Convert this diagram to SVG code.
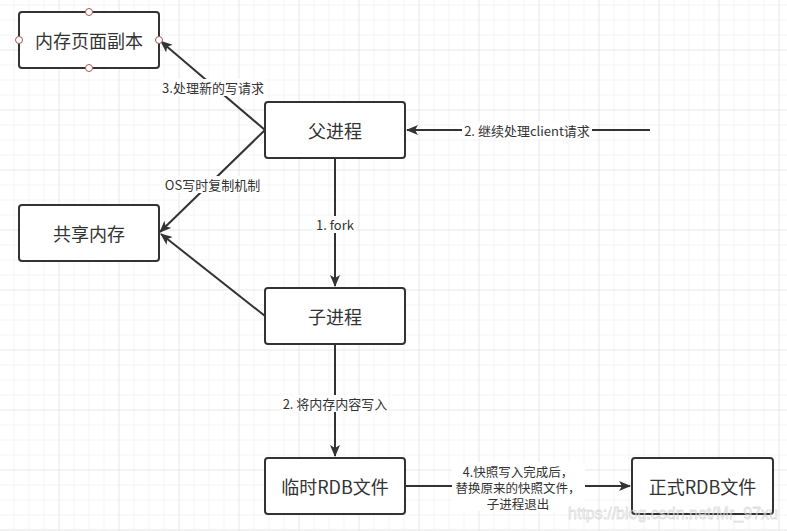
<svg xmlns="http://www.w3.org/2000/svg" width="787" height="531" viewBox="0 0 787 531">
<style>
.box{fill:#fff;stroke:#333;stroke-width:2}
.nt{font-family:"Noto Sans CJK SC","Liberation Sans",sans-serif;font-size:18px;fill:#333;text-anchor:middle;dominant-baseline:central}
.lt{font-family:"Noto Sans CJK SC","Liberation Sans",sans-serif;font-size:13px;fill:#333;text-anchor:middle;dominant-baseline:central}
.lt2{font-family:"Noto Sans CJK SC","Liberation Sans",sans-serif;font-size:12.5px;fill:#333;text-anchor:middle;dominant-baseline:central}
.edge{fill:none;stroke:#333;stroke-width:2}
.lbg{fill:#fff}
.cp{fill:#fff;stroke:#a05a5a;stroke-width:1}
</style>
<defs>
<pattern id="g" x="13.5" y="4.5" width="15" height="15" patternUnits="userSpaceOnUse">
<path d="M0 0H15M0 0V15" fill="none" stroke="#ececec" stroke-width="1"/>
</pattern>
<pattern id="G" x="58.5" y="49.5" width="60" height="60" patternUnits="userSpaceOnUse">
<path d="M0 0H60M0 0V60" fill="none" stroke="#dedede" stroke-width="1"/>
</pattern>
<marker id="arr" viewBox="0 0 12 10" refX="11" refY="5" markerWidth="12" markerHeight="10" markerUnits="userSpaceOnUse" orient="auto">
<path d="M0 0L12 5L0 10L3 5Z" fill="#333"/>
</marker>
</defs>
<rect width="787" height="531" fill="#fff"/>
<rect width="787" height="531" fill="url(#g)"/>
<rect width="787" height="531" fill="url(#G)"/>

<g id="connectors">
<path class="edge" d="M265 130L161 41.5" marker-end="url(#arr)"/>
<path class="edge" d="M265 130L160 232" marker-end="url(#arr)"/>
<path class="edge" d="M650 130H407" marker-end="url(#arr)"/>
<path class="edge" d="M335 158V286" marker-end="url(#arr)"/>
<path class="edge" d="M265 316L161 234" marker-end="url(#arr)"/>
<path class="edge" d="M335 344V456" marker-end="url(#arr)"/>
<path class="edge" d="M405 486H630" marker-end="url(#arr)"/>
<g id="label-3">
<rect class="lbg" x="161" y="79" width="104" height="17"/>
<text class="lt" x="213" y="87">3.处理新的写请求</text>
</g>
<g id="label-os">
<rect class="lbg" x="164" y="176" width="97" height="17"/>
<text class="lt" x="212.5" y="184">OS写时复制机制</text>
</g>
<g id="label-2c">
<rect class="lbg" x="462" y="122" width="130" height="17"/>
<text class="lt" x="527" y="130">2. 继续处理client请求</text>
</g>
<g id="label-fork">
<rect class="lbg" x="313" y="216" width="44" height="17"/>
<text class="lt" x="335" y="224">1. fork</text>
</g>
<g id="label-2w">
<rect class="lbg" x="282" y="395" width="106" height="17"/>
<text class="lt" x="335" y="403">2. 将内存内容写入</text>
</g>
<g id="label-4">
<rect class="lbg" x="452" y="462" width="133" height="49"/>
<text class="lt2" x="518" y="471">4.快照写入完成后，</text>
<text class="lt2" x="518" y="487">替换原来的快照文件，</text>
<text class="lt2" x="518" y="503">子进程退出</text>
</g>
</g>

<g id="node-copy">
<rect class="box" x="19" y="12" width="140" height="56" rx="3"/>
<text class="nt" x="89" y="40">内存页面副本</text>
<circle class="cp" cx="89" cy="12" r="3.5"/>
<circle class="cp" cx="89" cy="68" r="3.5"/>
<circle class="cp" cx="19" cy="40" r="3.5"/>
<circle class="cp" cx="159" cy="40" r="3.5"/>
</g>
<g id="node-parent">
<rect class="box" x="265" y="102" width="140" height="56" rx="3"/>
<text class="nt" x="335" y="130">父进程</text>
</g>
<g id="node-shared">
<rect class="box" x="19" y="205" width="140" height="56" rx="3"/>
<text class="nt" x="89" y="233">共享内存</text>
</g>
<g id="node-child">
<rect class="box" x="265" y="288" width="140" height="56" rx="3"/>
<text class="nt" x="335" y="316">子进程</text>
</g>
<g id="node-tmp">
<rect class="box" x="265" y="458" width="140" height="56" rx="3"/>
<text class="nt" x="335" y="486">临时RDB文件</text>
</g>
<g id="node-final">
<rect class="box" x="632" y="458" width="141" height="56" rx="3"/>
<text class="nt" x="702.5" y="486">正式RDB文件</text>
</g>
<text x="673" y="513" font-family="'Liberation Sans',Arial,sans-serif" font-size="16" fill="#fff" fill-opacity="0.6" stroke="#999" stroke-opacity="0.35" stroke-width="0.8" text-anchor="middle" dominant-baseline="central">https://blog.csdn.net/Mr_97xu</text>
</svg>
